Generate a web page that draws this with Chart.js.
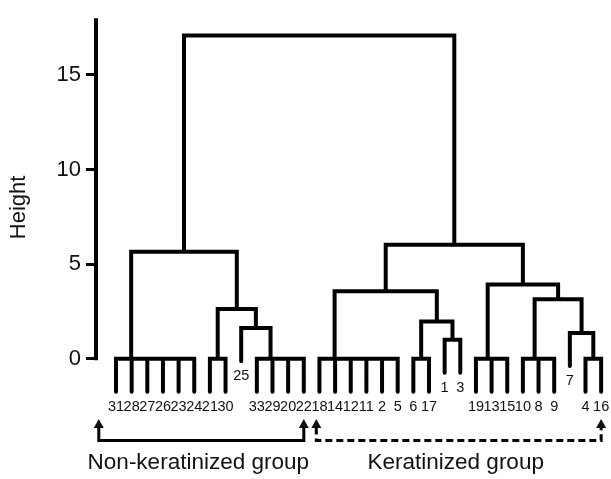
<!DOCTYPE html>
<html>
<head>
<meta charset="utf-8">
<script src="https://cdn.jsdelivr.net/npm/chart.js@4.4.1/dist/chart.umd.min.js"></script>
<style>
  html, body { margin: 0; padding: 0; background: #fff; }
  .dendro-container { position: relative; width: 611px; height: 479px; }
</style>
</head>
<body>
<div class="dendro-container"><canvas id="chart"></canvas></div>
<script>
// leaf order along the bottom, left to right
const leafLabels = ['31', '28', '27', '26', '23', '24', '21', '30', '25', '33', '29', '20', '22',
  '18', '14', '12', '11', '2', '5', '6', '17', '1', '3', '19', '13', '15', '10', '8', '9', '7', '4', '16'];

// merge steps, hclust style: negative = leaf position, positive = earlier step
const mergeLeft = [-5, -4, -3, -2, -1, -7, -12, -11, -10, -9, 6, 5,
  -18, -17, -16, -15, -14, -20, -22, 18, 17, -25, -24, -28, -27, -31, -30, 25, 23, 21, 12];
const mergeRight = [-6, 1, 2, 3, 4, -8, -13, 7, 8, 9, 10, 11,
  -19, 13, 14, 15, 16, -21, -23, 19, 20, -26, 22, -29, 24, -32, 26, 27, 28, 29, 30];
const mergeHeight = [0, 0, 0, 0, 0, 0, 0, 0, 0, 1.62, 2.62, 5.65,
  0, 0, 0, 0, 0, 0, 1.0, 1.96, 3.56, 0, 0, 0, 0, 0, 1.36, 3.14, 3.92, 6.02, 17.08];

const yTicks = [0, 5, 10, 15];
const leafHang = 1.75;

const groupNames = ['Non-keratinized group', 'Keratinized group'];
const groupStart = [-0.1, 13.8];
const groupEnd = [13, 32];
const groupDashed = [false, true];

// Build the dendrogram polylines from the merge table
const nodeX = [];
const leafEnds = [];
const segments = [];

function childOf(ref, parentH) {
  if (ref < 0) return { x: -ref, h: parentH - leafHang, leaf: -ref };
  return { x: nodeX[ref - 1], h: mergeHeight[ref - 1] };
}

mergeHeight.forEach((h, i) => {
  const a = childOf(mergeLeft[i], h);
  const b = childOf(mergeRight[i], h);
  nodeX.push((a.x + b.x) / 2);
  segments.push(
    { x: a.x, y: a.h }, { x: a.x, y: h },
    { x: b.x, y: h }, { x: b.x, y: b.h },
    { x: b.x, y: null }
  );
  [a, b].forEach(c => { if (c.leaf) leafEnds[c.leaf - 1] = c.h; });
});

const FONT = '"Liberation Sans", Arial, sans-serif';

const dendroExtras = {
  id: 'dendroExtras',
  afterDatasetsDraw(chart) {
    const { ctx, chartArea } = chart;
    const x = chart.scales.x;
    const y = chart.scales.y;
    ctx.save();

    // y axis line, from 0 up to the top
    ctx.strokeStyle = '#000';
    ctx.lineWidth = 4;
    ctx.lineCap = 'butt';
    ctx.beginPath();
    ctx.moveTo(chartArea.left, y.getPixelForValue(0) + 1.5);
    ctx.lineTo(chartArea.left, y.getPixelForValue(y.max));
    ctx.stroke();

    // leaf labels under each leaf end
    ctx.fillStyle = '#111';
    ctx.font = '14.5px ' + FONT;
    ctx.textAlign = 'center';
    ctx.textBaseline = 'top';
    leafLabels.forEach((lab, i) => {
      ctx.fillText(lab, x.getPixelForValue(i + 1), y.getPixelForValue(leafEnds[i]) + 8);
    });

    // group brackets with arrow heads
    const base = chartArea.bottom;
    groupNames.forEach((name, g) => {
      const x0 = x.getPixelForValue(groupStart[g]);
      const x1 = x.getPixelForValue(groupEnd[g]);
      [x0, x1].forEach(px => {
        ctx.beginPath();
        ctx.moveTo(px, base + 22.5);
        ctx.lineTo(px - 5, base + 31.5);
        ctx.lineTo(px + 5, base + 31.5);
        ctx.closePath();
        ctx.fill();
      });
      ctx.lineWidth = 3;
      ctx.lineJoin = 'miter';
      ctx.setLineDash(groupDashed[g] ? [7, 4] : []);
      ctx.beginPath();
      ctx.moveTo(x0, base + 31);
      ctx.lineTo(x0, base + 44);
      ctx.lineTo(x1, base + 44);
      ctx.lineTo(x1, base + 31);
      ctx.stroke();
      ctx.setLineDash([]);

      ctx.font = '22.5px ' + FONT;
      ctx.textBaseline = 'middle';
      ctx.fillText(name, (x0 + x1) / 2 - 3, base + 66);
    });

    ctx.restore();
  }
};

new Chart(document.getElementById('chart'), {
  type: 'scatter',
  data: {
    datasets: [{
      data: segments,
      showLine: true,
      borderColor: '#000',
      borderWidth: 4,
      borderCapStyle: 'round',
      borderJoinStyle: 'miter',
      pointRadius: 0,
      spanGaps: false,
      clip: false,
    }]
  },
  options: {
    responsive: true,
    maintainAspectRatio: false,
    animation: false,
    layout: { padding: { left: 0, right: 0, top: 11.5, bottom: 82.5 } },
    plugins: {
      legend: { display: false },
      tooltip: { enabled: false },
    },
    scales: {
      x: {
        type: 'linear',
        display: false,
        min: -0.278,
        max: 32.63,
      },
      y: {
        type: 'linear',
        min: -2,
        max: 18,
        afterFit: scale => { scale.width = 96; },
        afterBuildTicks: scale => { scale.ticks = yTicks.map(v => ({ value: v })); },
        border: { display: false },
        grid: {
          drawOnChartArea: false,
          drawTicks: true,
          tickLength: 10,
          color: '#000',
          lineWidth: 3,
        },
        ticks: {
          color: '#111',
          padding: 5,
          font: { family: FONT, size: 22 },
        },
        title: {
          display: true,
          text: 'Height',
          color: '#111',
          padding: { top: 6 },
          font: { family: FONT, size: 22 },
        }
      }
    }
  },
  plugins: [dendroExtras]
});
</script>
</body>
</html>
